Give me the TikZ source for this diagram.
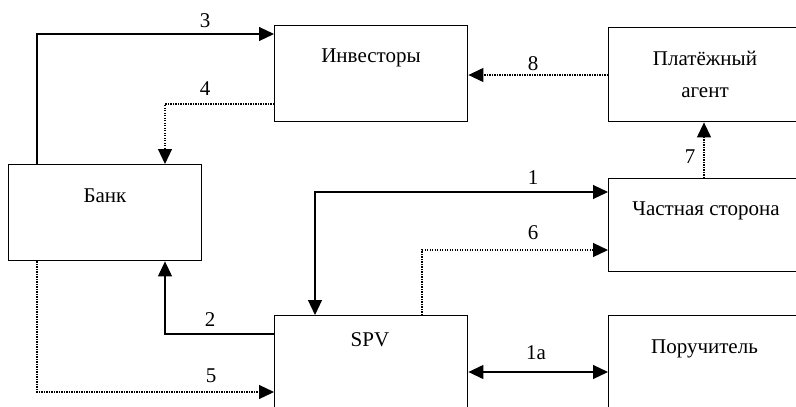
\documentclass[tikz,border=0pt]{standalone}
\usepackage{fontspec}
\setmainfont{Liberation Serif}
\usetikzlibrary{arrows.meta}
\begin{document}
\begin{tikzpicture}[x=1pt,y=-1pt,
  box/.style={draw,line width=1.4pt,rectangle,anchor=north west,inner sep=0pt},
  txt/.style={anchor=base,inner sep=0pt,font=\fontsize{21}{24}\selectfont},
  lbl/.style={anchor=base,inner sep=0pt,font=\fontsize{21}{24}\selectfont},
  conn/.style={line width=1.2pt},
  dotconn/.style={line width=1.2pt,dash pattern=on 1.2pt off 1.3pt},
  tip/.style={-{Triangle[length=15pt,width=14pt]}},
  tips/.style={{Triangle[length=15pt,width=14pt]}-{Triangle[length=15pt,width=14pt]}}]
\useasboundingbox (0,0) rectangle (796,407);
\clip (0,0) rectangle (796,407);
% boxes
\node[box,minimum width=193pt,minimum height=96pt] (inv) at (274,25) {};
\node[box,minimum width=220pt,minimum height=94pt] (pay) at (608,27) {};
\node[box,minimum width=193pt,minimum height=96pt] (bank) at (8,164) {};
\node[box,minimum width=220pt,minimum height=93pt] (priv) at (608,178) {};
\node[box,minimum width=193pt,minimum height=120pt] (spv) at (274,315) {};
\node[box,minimum width=220pt,minimum height=120pt] (guar) at (608,315) {};
% texts
\node[txt] (invT) at (371,62) {Инвесторы};
\node[txt] (payT1) at (705,65) {Платёжный};
\node[txt] (payT2) at (705,97) {агент};
\node[txt] (bankT) at (105,202) {Банк};
\node[txt] (privT) at (706,215) {Частная сторона};
\node[txt] (spvT) at (370,346) {SPV};
\node[txt] (guarT) at (704.5,353) {Поручитель};
% connectors
\draw[conn,tip] (bank.north -| 37,0) |- (inv.west |- 0,34);
\draw[dotconn,tip] (inv.west |- 0,104) -| (bank.north -| 165,0);
\draw[dotconn,tip] (pay.west |- 0,75) -- (inv.east |- 0,75);
\draw[dotconn,tip] (priv.north -| 704,0) -- (pay.south -| 704,0);
\draw[conn,tips] (priv.west |- 0,192) -| (spv.north -| 315,0);
\draw[dotconn,tip] (spv.north -| 422,0) |- (priv.west |- 0,250);
\draw[conn,tips] (spv.east |- 0,372) -- (guar.west |- 0,372);
\draw[conn,tip] (spv.west |- 0,334) -| (bank.south -| 165,0);
\draw[dotconn,tip] (bank.south -| 37,0) |- (spv.west |- 0,392);
% labels
\node[lbl] (l3) at (205,27) {3};
\node[lbl] (l4) at (205,95) {4};
\node[lbl] (l8) at (533,70) {8};
\node[lbl] (l7) at (690,163) {7};
\node[lbl] (l1) at (533,184) {1};
\node[lbl] (l6) at (533,239) {6};
\node[lbl] (l1a) at (536,359) {1a};
\node[lbl] (l2) at (210,326) {2};
\node[lbl] (l5) at (211,382) {5};
\end{tikzpicture}
\end{document}
